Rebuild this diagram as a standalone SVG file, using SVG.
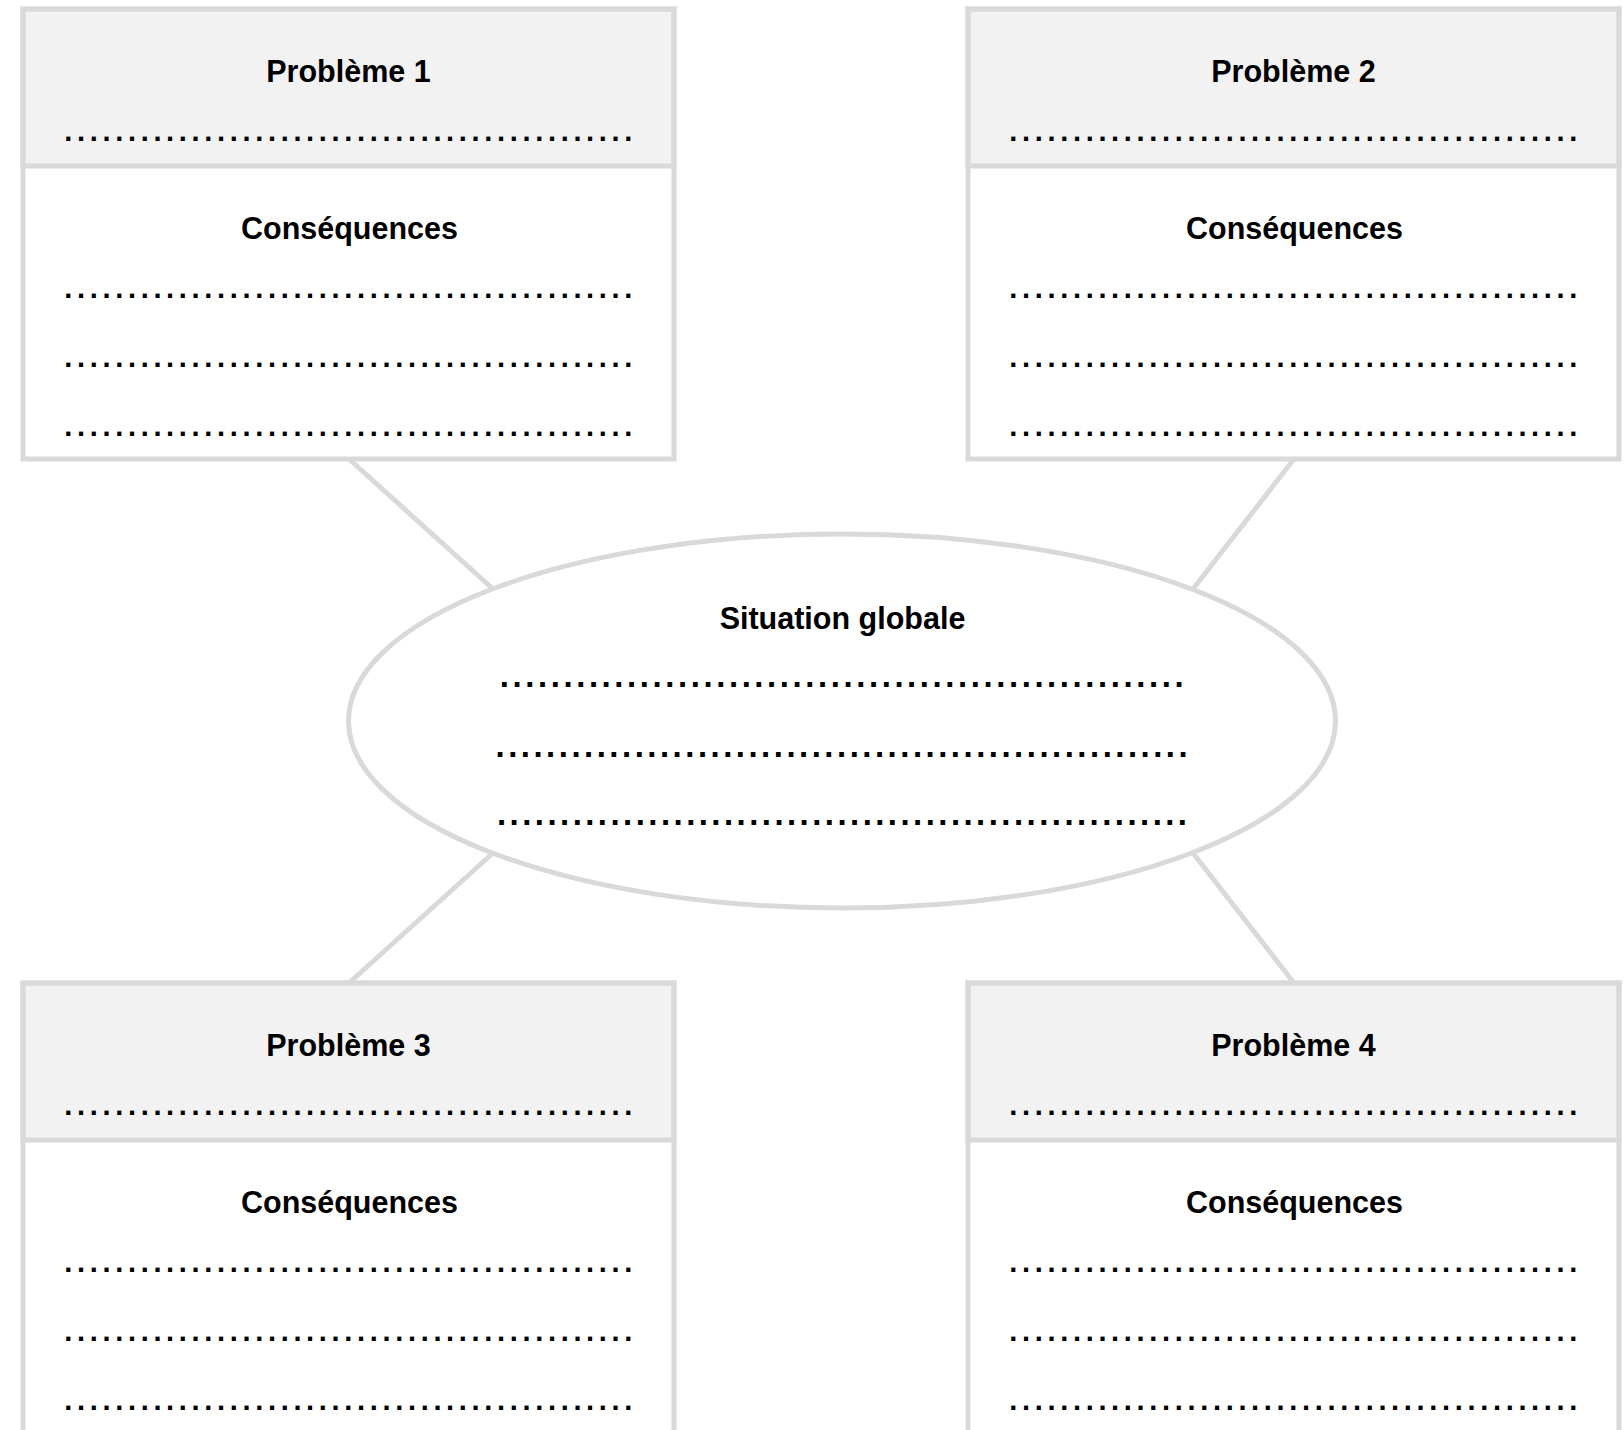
<svg xmlns="http://www.w3.org/2000/svg" width="1624" height="1430" viewBox="0 0 1624 1430">
<style>
.bg{fill:#ffffff}
.frame{fill:none;stroke:#d9d9d9;stroke-width:5}
.head{fill:#f2f2f2;stroke:#d9d9d9;stroke-width:5}
.body{fill:#ffffff;stroke:none}
.conn{stroke:#d9d9d9;stroke-width:5;fill:none}
.ell{fill:#ffffff;stroke:#d9d9d9;stroke-width:5}
.title{font-family:"Liberation Sans",Arial,sans-serif;font-weight:bold;font-size:30.5px;fill:#000;text-anchor:middle}
.dots{font-family:"Liberation Sans",Arial,sans-serif;font-weight:bold;font-size:29px;letter-spacing:4.67px;fill:#000}
.edots{font-family:"Liberation Sans",Arial,sans-serif;font-weight:bold;font-size:33px;letter-spacing:3.56px;fill:#000}
</style>
<rect class="bg" x="0" y="0" width="1624" height="1430"/>
<g id="connectors">
<line class="conn" x1="349" y1="459" x2="493" y2="589"/>
<line class="conn" x1="1294" y1="459" x2="1193" y2="589"/>
<line class="conn" x1="493" y1="853" x2="349" y2="983"/>
<line class="conn" x1="1193" y1="853" x2="1294" y2="983"/>
</g>
<g id="probleme1">
<rect class="body" x="23" y="9" width="651" height="450"/>
<rect class="head" x="23" y="9" width="651" height="157"/>
<rect class="frame" x="23" y="9" width="651" height="450"/>
<text class="title" x="348.5" y="82">Problème 1</text>
<text class="dots" x="64.3" y="141">.............................................</text>
<text class="title" x="349.5" y="238.5">Conséquences</text>
<text class="dots" x="64.3" y="298">.............................................</text>
<text class="dots" x="64.3" y="367">.............................................</text>
<text class="dots" x="64.3" y="436">.............................................</text>
</g>
<g id="probleme2">
<rect class="body" x="968" y="9" width="651" height="450"/>
<rect class="head" x="968" y="9" width="651" height="157"/>
<rect class="frame" x="968" y="9" width="651" height="450"/>
<text class="title" x="1293.5" y="82">Problème 2</text>
<text class="dots" x="1009.3" y="141">.............................................</text>
<text class="title" x="1294.5" y="238.5">Conséquences</text>
<text class="dots" x="1009.3" y="298">.............................................</text>
<text class="dots" x="1009.3" y="367">.............................................</text>
<text class="dots" x="1009.3" y="436">.............................................</text>
</g>
<g id="probleme3">
<rect class="body" x="23" y="983" width="651" height="500"/>
<rect class="head" x="23" y="983" width="651" height="157"/>
<rect class="frame" x="23" y="983" width="651" height="500"/>
<text class="title" x="348.5" y="1056">Problème 3</text>
<text class="dots" x="64.3" y="1115">.............................................</text>
<text class="title" x="349.5" y="1212.5">Conséquences</text>
<text class="dots" x="64.3" y="1272">.............................................</text>
<text class="dots" x="64.3" y="1341">.............................................</text>
<text class="dots" x="64.3" y="1410">.............................................</text>
</g>
<g id="probleme4">
<rect class="body" x="968" y="983" width="651" height="500"/>
<rect class="head" x="968" y="983" width="651" height="157"/>
<rect class="frame" x="968" y="983" width="651" height="500"/>
<text class="title" x="1293.5" y="1056">Problème 4</text>
<text class="dots" x="1009.3" y="1115">.............................................</text>
<text class="title" x="1294.5" y="1212.5">Conséquences</text>
<text class="dots" x="1009.3" y="1272">.............................................</text>
<text class="dots" x="1009.3" y="1341">.............................................</text>
<text class="dots" x="1009.3" y="1410">.............................................</text>
</g>
<g id="situation">
<ellipse class="ell" cx="842" cy="721" rx="493.5" ry="187"/>
<text class="title" x="842.5" y="629">Situation globale</text>
<text class="edots" x="499.8" y="687.3">......................................................</text>
<text class="edots" x="495.5" y="756.5" style="letter-spacing:3.48px">.......................................................</text>
<text class="edots" x="497" y="825" style="letter-spacing:3.44px">.......................................................</text>
</g>
</svg>
